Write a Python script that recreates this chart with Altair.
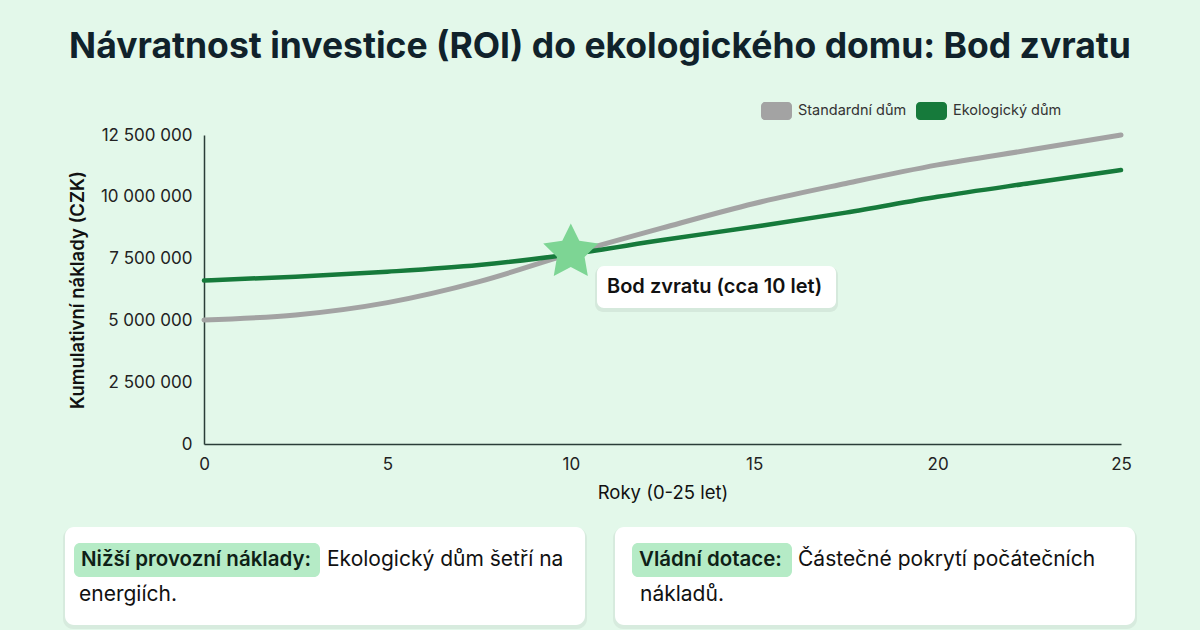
import math
import altair as alt
import pandas as pd

# ---------------- data ----------------
years = [0, 2.5, 5, 7.5, 10, 12.5, 15, 17.5, 20, 22.5, 25]
standard_mil = [5.02, 5.22, 5.72, 6.57, 7.7, 8.74, 9.73, 10.54, 11.29, 11.89, 12.5]
eco_mil = [6.61, 6.77, 6.97, 7.24, 7.68, 8.25, 8.79, 9.36, 10.0, 10.55, 11.08]
series_names = ["Standardní dům", "Ekologický dům"]
series_colors = ["#a3a3a3", "#167a3b"]

x_ticks = [0, 5, 10, 15, 20, 25]
y_ticks = [0, 2_500_000, 5_000_000, 7_500_000, 10_000_000, 12_500_000]

break_even_year = [10]
break_even_value = [7_750_000]
annotation_text = ["Bod zvratu (cca 10 let)"]

title_text = "Návratnost investice (ROI) do ekologického domu: Bod zvratu"
x_title = "Roky (0-25 let)"
y_title = "Kumulativní náklady (CZK)"

card_labels = ["Nižší provozní náklady:", "Vládní dotace:"]
card_line1 = ["Ekologický dům šetří na", "Částečné pokrytí počátečních"]
card_line2 = ["energiích.", "nákladů."]

FONT = "Inter"
BG = "#e3f8ea"

rows = []
for yr, s, e in zip(years, standard_mil, eco_mil):
    rows.append({"rok": yr, "naklady": s * 1e6, "dum": series_names[0]})
    rows.append({"rok": yr, "naklady": e * 1e6, "dum": series_names[1]})
df = pd.DataFrame(rows)

W, H = 917, 309
PAD = {"left": 204, "top": 135, "right": 79, "bottom": 186}

x_scale = alt.Scale(domain=[0, 25], nice=False)
y_scale = alt.Scale(domain=[0, 12_500_000], nice=False)
color_scale = alt.Scale(domain=series_names, range=series_colors)

x_enc = alt.X("rok:Q", scale=x_scale,
              axis=alt.Axis(values=x_ticks, title=x_title, format="d", labelFlush=False,
                            titleFontWeight=400, titlePadding=11, labelPadding=12))
y_enc = alt.Y("naklady:Q", scale=y_scale,
              axis=alt.Axis(values=y_ticks, title=y_title, labelFlush=False,
                            labelExpr="replace(replace(format(datum.value, ','), ',', ' '), ',', ' ')",
                            titleFontWeight=600, titlePadding=13, labelPadding=12))

base = alt.Chart(df)
line_std = base.transform_filter(alt.datum.dum == series_names[0]).mark_line(
    interpolate="monotone", strokeWidth=5, strokeCap="round").encode(
    x=x_enc, y=y_enc, color=alt.Color("dum:N", scale=color_scale, legend=None))
line_eco = base.transform_filter(alt.datum.dum == series_names[1]).mark_line(
    interpolate="monotone", strokeWidth=4.5, strokeCap="round").encode(
    x="rok:Q", y="naklady:Q", color=alt.Color("dum:N", scale=color_scale, legend=None))


def star_path(n=5, inner=0.5):
    pts = []
    for k in range(2 * n):
        r = 1.0 if k % 2 == 0 else inner
        a = -math.pi / 2 + k * math.pi / n
        pts.append(f"{r * math.cos(a):.4f},{r * math.sin(a):.4f}")
    return "M" + " L".join(pts) + " Z"


star_df = pd.DataFrame({"rok": break_even_year, "naklady": break_even_value})
star = alt.Chart(star_df).mark_point(
    shape=star_path(), filled=True, size=3364, color="#7dd594", opacity=1, strokeWidth=0
).encode(x="rok:Q", y="naklady:Q")

# annotation box
ann_df = pd.DataFrame({"t": annotation_text})
ann_shadow = alt.Chart(ann_df).mark_rect(cornerRadius=8, fill="#000000", opacity=0.06).encode(
    x=alt.value(391), x2=alt.value(634), y=alt.value(132), y2=alt.value(177))
ann_box = alt.Chart(ann_df).mark_rect(cornerRadius=7, fill="#ffffff").encode(
    x=alt.value(393), x2=alt.value(632), y=alt.value(131), y2=alt.value(173))
ann_text = alt.Chart(ann_df).mark_text(
    align="left", baseline="middle", font=FONT, fontSize=20, fontWeight=600, color="#111111"
).encode(x=alt.value(403), y=alt.value(152), text="t:N")

# title
title_df = pd.DataFrame({"t": [title_text]})
title = alt.Chart(title_df).mark_text(
    align="center", baseline="middle", font=FONT, fontSize=35.5, fontWeight=700, color="#10222b"
).encode(x=alt.value(396), y=alt.value(-88), text="t:N")

# legend (manual)
leg_layers = []
leg_x = [557, 712]
for i, name in enumerate(series_names):
    ldf = pd.DataFrame({"t": [name]})
    leg_layers.append(alt.Chart(ldf).mark_rect(cornerRadius=4, fill=series_colors[i]).encode(
        x=alt.value(leg_x[i]), x2=alt.value(leg_x[i] + 31), y=alt.value(-33), y2=alt.value(-15)))
    leg_layers.append(alt.Chart(ldf).mark_text(
        align="left", baseline="middle", font=FONT, fontSize=14.5, color="#333333"
    ).encode(x=alt.value(leg_x[i] + 37), y=alt.value(-24), text="t:N"))

# cards
card_layers = []
card_x = [(-139, 381), (411, 931)]
label_bg = [(-130, 116), (428, 588)]
label_tx = [-123, 435]
body_tx = [123, 594]
line2_tx = [-125, 436]
for i in range(2):
    cdf = pd.DataFrame({"a": [card_labels[i]], "b": [card_line1[i]], "c": [card_line2[i]]})
    x0, x1 = card_x[i]
    card_layers.append(alt.Chart(cdf).mark_rect(cornerRadius=10, fill="#000000", opacity=0.05).encode(
        x=alt.value(x0 - 2), x2=alt.value(x1 + 2), y=alt.value(393), y2=alt.value(494)))
    card_layers.append(alt.Chart(cdf).mark_rect(cornerRadius=9, fill="#ffffff").encode(
        x=alt.value(x0), x2=alt.value(x1), y=alt.value(392), y2=alt.value(490)))
    card_layers.append(alt.Chart(cdf).mark_rect(cornerRadius=6, fill="#b5ebc6").encode(
        x=alt.value(label_bg[i][0]), x2=alt.value(label_bg[i][1]), y=alt.value(408), y2=alt.value(442)))
    card_layers.append(alt.Chart(cdf).mark_text(
        align="left", baseline="middle", font=FONT, fontSize=20.5, fontWeight=600, color="#0f1f17"
    ).encode(x=alt.value(label_tx[i]), y=alt.value(425), text="a:N"))
    card_layers.append(alt.Chart(cdf).mark_text(
        align="left", baseline="middle", font=FONT, fontSize=21, fontWeight=400, color="#111111"
    ).encode(x=alt.value(body_tx[i]), y=alt.value(425), text="b:N"))
    card_layers.append(alt.Chart(cdf).mark_text(
        align="left", baseline="middle", font=FONT, fontSize=21, fontWeight=400, color="#111111"
    ).encode(x=alt.value(line2_tx[i]), y=alt.value(460), text="c:N"))

chart = alt.layer(
    line_std, line_eco, star, ann_shadow, ann_box, ann_text, title, *leg_layers, *card_layers
).properties(
    width=W, height=H, padding=PAD, autosize=alt.AutoSizeParams(type="none"), background=BG
).configure_view(stroke=None).configure_axis(
    grid=False, ticks=False, domainColor="#2b3d38", domainWidth=1.5,
    labelFont=FONT, labelFontSize=17, labelColor="#222222",
    titleFont=FONT, titleFontSize=18.5, titleColor="#111111"
)

chart.save("out.html", embed_options={"renderer": "svg", "actions": False})
